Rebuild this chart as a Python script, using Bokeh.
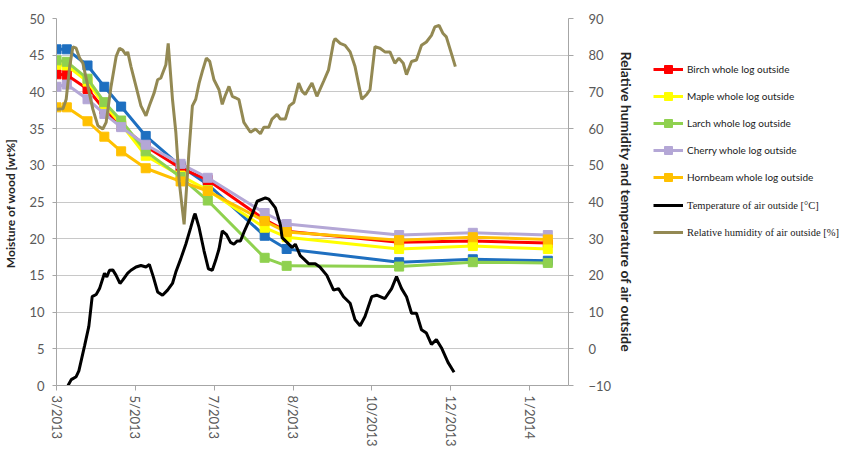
from bokeh.plotting import figure
from bokeh.models import (Range1d, LinearAxis, FixedTicker, Legend, LegendItem)
from bokeh.layouts import row
from bokeh.embed import file_html
from bokeh.resources import INLINE

# x positions are days counted from the first measurement (axis tick every 61 days)
tick_days = [0, 61, 122, 183, 244, 305, 366]
tick_labels = ["3/2013", "5/2013", "7/2013", "8/2013", "10/2013", "12/2013", "1/2014"]

# Moisture of wood [wt%] at each weighing
wood_days = [0, 8, 24, 37, 50, 69, 96, 117, 161, 178, 265, 322, 380]
birch = [42.4, 42.3, 40.4, 37.6, 35.4, 32.6, 29.6, 28.0, 22.6, 21.0, 19.5, 19.7, 19.4]
maple = [43.7, 43.6, 41.4, 38.2, 35.6, 31.3, 28.6, 26.6, 21.5, 20.2, 18.6, 19.0, 18.6]
larch = [44.3, 44.1, 41.8, 38.6, 36.1, 31.9, 28.4, 25.2, 17.4, 16.3, 16.2, 16.8, 16.7]
cherry = [40.7, 41.0, 39.0, 37.0, 35.2, 32.8, 30.2, 28.3, 23.5, 22.0, 20.5, 20.8, 20.5]
hornbeam = [37.9, 37.9, 36.0, 33.9, 31.9, 29.6, 27.8, 26.5, 22.4, 20.9, 19.8, 20.2, 19.9]
sixth_log = [45.8, 45.8, 43.6, 40.7, 38.0, 34.0, 29.9, 27.4, 20.4, 18.6, 16.8, 17.2, 17.0]

# Air temperature outside [°C]
temp_days = [8.9, 11.4, 15.2, 17.3, 21.7, 25.0, 27.6, 30.7, 33.3, 37.1, 38.9, 41.0, 43.5,
             46.1, 49.1, 51.2, 55.1, 57.6, 61.5, 65.3, 69.2, 71.8, 74.9, 78.2, 82.0, 85.9,
             89.7, 92.3, 96.1, 100.0, 103.8, 106.4, 107.2, 110.3, 114.1, 117.5, 120.5,
             123.1, 125.7, 128.2, 131.3, 134.6, 137.2, 139.8, 142.3, 144.9, 148.8, 151.3,
             155.2, 161.6, 164.2, 169.3, 173.1, 174.5, 178.3, 182.2, 184.7, 188.5, 191.2,
             195.0, 200.1, 203.7, 209.1, 214.3, 218.1, 222.0, 227.1, 230.9, 234.8, 238.6,
             243.8, 247.6, 254.0, 259.2, 263.0, 266.9, 270.7, 274.6, 278.4, 282.3, 286.1,
             290.0, 293.8, 297.7, 302.8, 307.5]
temp = [-10.0, -8.4, -7.6, -6.0, 0.8, 6.1, 14.2, 14.8, 16.4, 20.6, 19.6, 21.4, 21.5,
        20.0, 17.8, 18.7, 20.6, 21.4, 22.3, 22.7, 22.3, 23.0, 19.6, 15.5, 14.6, 16.0,
        17.8, 20.9, 24.5, 28.5, 33.0, 36.2, 36.8, 33.0, 26.7, 21.8, 21.4,
        24.1, 27.2, 32.1, 31.2, 29.0, 28.5, 29.4, 29.4, 31.7, 34.8, 36.6,
        40.2, 41.1, 40.8, 38.4, 33.9, 30.3, 29.0, 27.6, 28.5, 25.4, 24.5,
        23.2, 23.2, 22.3, 20.0, 16.0, 16.4, 14.2, 12.4, 7.9, 6.3, 8.8,
        14.2, 14.6, 13.7, 16.4, 19.7, 16.4, 14.2, 9.7, 9.7, 5.2, 4.3,
        1.2, 2.5, 0.3, -3.7, -6.4]

# Relative humidity of air outside [%]
hum_days = [0.0, 5.0, 7.5, 10.2, 12.7, 15.2, 17.9, 20.4, 24.3, 28.1, 32.0, 35.8, 38.4,
            42.2, 46.1, 48.7, 51.2, 53.8, 55.1, 57.6, 61.5, 65.3, 69.2, 71.8, 75.6, 78.2,
            80.7, 84.6, 86.4, 89.7, 92.3, 94.9, 98.7, 102.6, 105.1, 107.7, 110.3, 112.8,
            115.9, 118.5, 121.8, 125.7, 128.2, 130.3, 133.4, 136.0, 138.5, 141.1, 144.9,
            150.0, 153.9, 157.7, 160.4, 164.2, 166.7, 170.6, 173.1, 177.0, 180.1, 183.5,
            187.3, 189.9, 192.4, 197.6, 201.4, 206.6, 210.4, 214.3, 215.5, 219.4, 223.2,
            227.1, 230.9, 233.5, 236.1, 239.9, 242.5, 246.3, 250.2, 254.0, 257.9, 261.7,
            264.8, 268.2, 270.7, 274.6, 278.4, 282.3, 286.1, 290.0, 292.6, 295.9, 299.0,
            301.5, 305.4, 308.5]
hum = [65.3, 65.4, 68.0, 76.9, 82.3, 81.9, 79.2, 77.8, 71.5, 65.3, 60.8, 59.9, 61.7,
       71.5, 79.6, 81.9, 81.4, 80.1, 80.9, 76.9, 71.5, 66.2, 63.5, 66.2, 69.8, 73.3,
       73.8, 77.4, 83.2, 68.0, 59.0, 45.6, 33.9, 54.5, 66.2, 68.0, 72.4, 75.6,
       79.2, 78.3, 73.3, 70.6, 66.6, 68.8, 71.5, 68.8, 68.4, 67.9, 61.7,
       59.0, 59.9, 58.6, 60.4, 60.4, 62.6, 63.9, 62.6, 62.6, 66.2, 67.1,
       72.4, 70.2, 69.3, 72.4, 68.8, 72.9, 76.0, 83.6, 84.5, 83.2, 82.7,
       80.9, 76.9, 72.4, 68.0, 69.3, 70.6, 82.3, 81.9, 80.9, 80.9, 77.8,
       79.2, 77.8, 74.7, 78.3, 78.7, 82.7, 83.6, 85.4, 87.7, 88.1, 85.9,
       85.0, 80.5, 76.9]

TICK_FONT = "Lato"
GREY_TEXT = "#595959"
AXIS_GREY = "#a6a6a6"

p = figure(width=640, height=449, output_backend="svg", toolbar_location=None,
           x_range=Range1d(0, 396), y_range=Range1d(0, 50),
           min_border_left=54, min_border_right=72, min_border_top=18,
           min_border_bottom=59)
p.outline_line_color = None
p.background_fill_color = "white"
p.border_fill_color = "white"
p.extra_y_ranges = {"air": Range1d(-10, 90)}

# Left axis: wood moisture
p.yaxis.ticker = FixedTicker(ticks=list(range(0, 51, 5)))
p.yaxis.axis_label = "Moisture of wood  [wt%]"
p.yaxis.axis_label_text_font = TICK_FONT
p.yaxis.axis_label_text_font_style = "bold"
p.yaxis.axis_label_text_font_size = "12px"
p.yaxis.axis_label_text_color = "#262626"
p.yaxis.axis_label_standoff = 8
p.yaxis.major_label_text_font = TICK_FONT
p.yaxis.major_label_text_font_size = "13px"
p.yaxis.major_label_text_color = GREY_TEXT
p.yaxis.major_label_standoff = 8
p.yaxis.axis_line_color = AXIS_GREY
p.yaxis.major_tick_line_color = AXIS_GREY
p.yaxis.major_tick_out = 4
p.yaxis.major_tick_in = 0
p.yaxis.minor_tick_line_color = None

# Bottom axis: dates
p.xaxis.ticker = FixedTicker(ticks=tick_days)
p.xaxis.major_label_overrides = {d: t for d, t in zip(tick_days, tick_labels)}
p.xaxis.major_label_orientation = "vertical"
p.xaxis.major_label_text_font = TICK_FONT
p.xaxis.major_label_text_font_size = "13px"
p.xaxis.major_label_text_color = GREY_TEXT
p.xaxis.axis_line_color = AXIS_GREY
p.xaxis.major_tick_line_color = AXIS_GREY
p.xaxis.major_tick_out = 5
p.xaxis.major_tick_in = 0
p.xaxis.minor_tick_line_color = None

# Right axis: humidity and temperature
right_axis = LinearAxis(y_range_name="air", ticker=FixedTicker(ticks=list(range(-10, 91, 10))),
                        axis_label="Relative humidity and temperature of air outside")
right_axis.axis_label_text_font = TICK_FONT
right_axis.axis_label_text_font_style = "bold"
right_axis.axis_label_text_font_size = "14px"
right_axis.axis_label_text_color = "#262626"
right_axis.axis_label_standoff = 4
right_axis.major_label_text_font = TICK_FONT
right_axis.major_label_text_font_size = "13px"
right_axis.major_label_text_color = GREY_TEXT
right_axis.major_label_standoff = 15
right_axis.axis_line_color = AXIS_GREY
right_axis.major_tick_line_color = AXIS_GREY
right_axis.major_tick_out = 5
right_axis.major_tick_in = 0
right_axis.minor_tick_line_color = None
p.add_layout(right_axis, "right")

p.xgrid.grid_line_color = None
p.ygrid.grid_line_color = "#c8c8c8"
p.ygrid.grid_line_width = 1

# Wood series: line with square markers
p.line(wood_days, sixth_log, line_color="#1e6fc0", line_width=3)
p.scatter(wood_days, sixth_log, marker="square", size=9, fill_color="#1e6fc0", line_color="#1e6fc0")

wood_series = [
    ("Birch whole log outside", birch, "#ff0000"),
    ("Maple whole log outside", maple, "#ffff00"),
    ("Larch whole log outside", larch, "#8fd14f"),
    ("Cherry whole log outside", cherry, "#b4a7d6"),
    ("Hornbeam whole log outside", hornbeam, "#ffc000"),
]
for name, vals, col in wood_series:
    p.line(wood_days, vals, line_color=col, line_width=3)
    p.scatter(wood_days, vals, marker="square", size=9, fill_color=col, line_color=col)

# Air series on the right axis
p.line(temp_days, temp, y_range_name="air", line_color="black", line_width=3)
p.line(hum_days, hum, y_range_name="air", line_color="#938953", line_width=3)

# Key panel to the right of the chart; its swatch renderers sit outside the visible range
key = figure(width=204, height=449, output_backend="svg", toolbar_location=None,
             x_range=Range1d(0, 1), y_range=Range1d(0, 1),
             x_axis_location=None, y_axis_location=None,
             min_border_left=0, min_border_right=0, min_border_top=0, min_border_bottom=0)
key.outline_line_color = None
key.xgrid.grid_line_color = None
key.ygrid.grid_line_color = None

off = [-5.0]
wood_items = []
for name, vals, col in wood_series:
    ln = key.line(off, off, line_color=col, line_width=3)
    sc = key.scatter(off, off, marker="square", size=7, fill_color=col, line_color=col)
    wood_items.append(LegendItem(label=name, renderers=[ln, sc]))

t_key = key.line(off, off, line_color="black", line_width=3)
h_key = key.line(off, off, line_color="#938953", line_width=3)
air_items = [
    LegendItem(label="Temperature of air outside [°C]", renderers=[t_key]),
    LegendItem(label="Relative humidity of air outside [%]", renderers=[h_key]),
]

def styled_legend(items, font, size, loc):
    lg = Legend(items=items, location=loc, orientation="vertical")
    lg.label_text_font = font
    lg.label_text_font_size = size
    lg.label_text_color = "#1a1a1a"
    lg.glyph_width = 30
    lg.glyph_height = 20
    lg.label_height = 20
    lg.label_standoff = 4
    lg.spacing = 7
    lg.padding = 0
    lg.margin = 0
    lg.border_line_color = None
    lg.background_fill_alpha = 0
    return lg

key.add_layout(styled_legend(wood_items, "Lato", "10px", (13, 198)), "center")
key.add_layout(styled_legend(air_items, "Liberation Serif", "10.5px", (13, 143)), "center")

layout = row(p, key)
open("out.html", "w").write(file_html(layout, INLINE))
